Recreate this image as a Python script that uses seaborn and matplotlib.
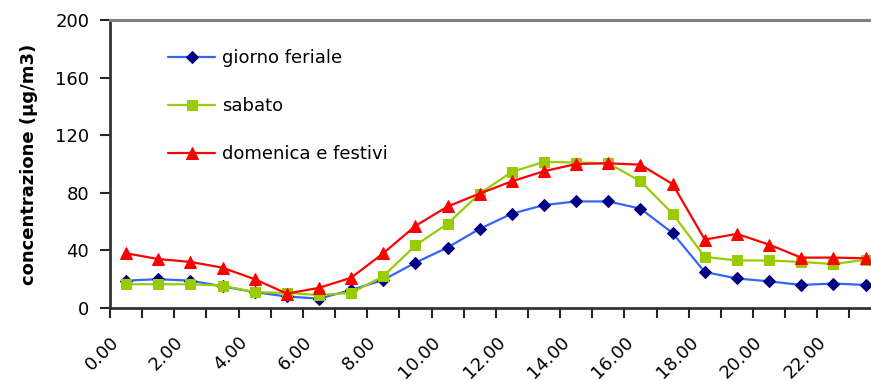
import numpy as np
import pandas as pd
import matplotlib
matplotlib.use("Agg")
import matplotlib.pyplot as plt
import seaborn as sns

# Hourly mean concentrations (µg/m3), hour 0..23
hours = list(range(24))
giorno_feriale = [19, 20, 19, 15, 11, 8, 6.5, 12.5, 19.5, 31.5, 42, 55,
                  65.5, 71.5, 74, 74, 69, 52, 25, 20.5, 18.5, 16, 17, 16]
sabato = [16.5, 16.5, 16.5, 15.5, 11, 10.5, 9, 10.5, 22, 43.5, 58.5, 79.5,
          94.5, 101.5, 101, 100.5, 88, 65.5, 35.5, 33, 33, 32, 30.5, 33.5]
domenica_festivi = [38, 34, 32, 28, 20, 10, 14, 21, 38, 57, 70.5, 79.5,
                    88, 95, 100, 100.5, 99.5, 86, 47.5, 51.5, 44, 35, 35, 34.5]
series_names = ["giorno feriale", "sabato", "domenica e festivi"]
tick_labels = [f"{h}.00" for h in range(0, 24, 2)]

sns.set_theme(style="white")
plt.rcParams["font.family"] = ["DejaVu Sans"]
plt.rcParams["text.color"] = "black"
plt.rcParams["axes.labelcolor"] = "black"

df = pd.DataFrame({
    "ora": np.array(hours * 3) + 0.5,
    "conc": giorno_feriale + sabato + domenica_festivi,
    "serie": sum([[n] * 24 for n in series_names], []),
})

fig = plt.figure(figsize=(8.71, 3.82), dpi=100)
W, H = 871, 382
ax = fig.add_axes([110 / W, (H - 308) / H, 771.6 / W, 288 / H])

line_colors = {"giorno feriale": "#3366FF", "sabato": "#99CC00",
               "domenica e festivi": "#FF0000"}
marker_style = {"giorno feriale": dict(marker="D", markersize=6.5, markerfacecolor="#000080", markeredgecolor="#000080"),
                "sabato": dict(marker="s", markersize=7.2, markerfacecolor="#99CC00", markeredgecolor="#99CC00"),
                "domenica e festivi": dict(marker="^", markersize=8.5, markerfacecolor="#FF0000", markeredgecolor="#FF0000")}

for name in series_names:
    sub = df[df["serie"] == name]
    sns.lineplot(data=sub, x="ora", y="conc", ax=ax, color=line_colors[name],
                 linewidth=1.6, label=name, **marker_style[name])

ax.set_xlim(0, 24)
ax.set_ylim(0, 200)
ax.set_yticks(range(0, 201, 40))
ax.set_xticks(range(0, 25))
ax.set_xticklabels([tick_labels[i // 2] if (i % 2 == 0 and i < 24) else "" for i in range(25)],
                   rotation=45, ha="right", va="top", rotation_mode="anchor")
ax.tick_params(axis="both", which="major", labelsize=13, labelcolor="black",
               length=7, width=1.5, direction="out", bottom=True, left=True)
ax.tick_params(axis="x", pad=11)
ax.tick_params(axis="y", pad=8)
for t in ax.get_xticklines() + ax.get_yticklines():
    t.set_color("#404040")

ax.set_xlabel("")
ax.set_ylabel("concentrazione (µg/m3)", fontsize=13, fontweight="bold",
              labelpad=12, color="black")

for side in ["left", "bottom"]:
    ax.spines[side].set_color("#333333")
    ax.spines[side].set_linewidth(2)
ax.spines["top"].set_color("#808080")
ax.spines["top"].set_linewidth(2.2)
ax.spines["right"].set_visible(False)
ax.grid(False)

leg = ax.legend(loc="upper left", bbox_to_anchor=(0.066, 0.925), frameon=False,
                fontsize=13, labelspacing=1.68, handlelength=2.6, handletextpad=0.4,
                borderaxespad=0)
for txt in leg.get_texts():
    txt.set_color("black")

fig.savefig("out.png", dpi=100)
